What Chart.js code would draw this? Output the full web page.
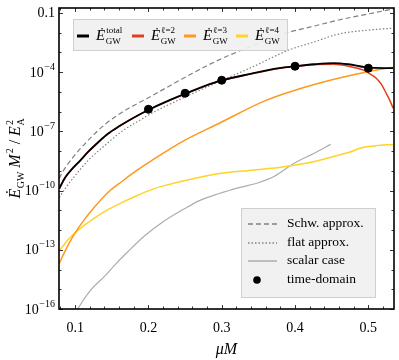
<!DOCTYPE html>
<html>
<head>
<meta charset="utf-8">
<script src="https://cdn.jsdelivr.net/npm/chart.js@4.4.1/dist/chart.umd.min.js"></script>
<style>
  html, body { margin: 0; padding: 0; background: #fff; }
  #wrap { width: 399px; height: 360px; }
</style>
</head>
<body>
<div id="wrap"><canvas id="gw_flux_plot" width="399" height="360"></canvas></div>
<script>
// values, y given as log10
const muTotal  = [0.0783, 0.0864, 0.0959, 0.1068, 0.1176, 0.1312, 0.1447, 0.161, 0.1773, 0.2017, 0.222, 0.2519, 0.2763, 0.3007, 0.3373, 0.378, 0.3997, 0.4254, 0.4525, 0.4729, 0.4973, 0.5339];
const logTotal = [-9.90, -9.34, -8.90, -8.48, -8.04, -7.56, -7.12, -6.72, -6.36, -5.88, -5.53, -5.07, -4.71, -4.41, -4.10, -3.80, -3.70, -3.60, -3.54, -3.60, -3.76, -3.80];

const muL2  = [0.0783, 0.0864, 0.0959, 0.1068, 0.1176, 0.1312, 0.1447, 0.161, 0.1773, 0.2017, 0.222, 0.2519, 0.2763, 0.3007, 0.3373, 0.378, 0.3997, 0.4254, 0.4525, 0.4729, 0.4932, 0.5027, 0.5108, 0.5176, 0.5244, 0.5298, 0.5339];
const logL2 = [-9.91, -9.35, -8.91, -8.49, -8.05, -7.57, -7.13, -6.73, -6.37, -5.89, -5.54, -5.08, -4.72, -4.42, -4.11, -3.81, -3.71, -3.62, -3.60, -3.70, -3.90, -4.10, -4.31, -4.61, -5.07, -5.47, -5.83];

const muL3  = [0.0783, 0.0824, 0.0892, 0.1, 0.1136, 0.1271, 0.1447, 0.1637, 0.1841, 0.2044, 0.2492, 0.2966, 0.3603, 0.4322, 0.4959, 0.5339];
const logL3 = [-13.71, -13.36, -12.85, -12.14, -11.42, -10.81, -10.10, -9.54, -8.98, -8.48, -7.46, -6.59, -5.43, -4.56, -4.00, -3.75];

const muL4  = [0.0783, 0.0837, 0.0892, 0.1, 0.1136, 0.1271, 0.1447, 0.1637, 0.1841, 0.2044, 0.222, 0.2559, 0.2966, 0.3373, 0.378, 0.4051, 0.4322, 0.4525, 0.4729, 0.4932, 0.5136, 0.5339];
const logL4 = [-13.05, -12.80, -12.54, -12.14, -11.73, -11.37, -10.97, -10.61, -10.26, -9.95, -9.75, -9.44, -9.14, -8.98, -8.83, -8.68, -8.48, -8.27, -8.07, -7.81, -7.71, -7.66];

const muScalar  = [0.098, 0.1027, 0.1203, 0.1407, 0.1556, 0.1719, 0.1949, 0.222, 0.2492, 0.2695, 0.2966, 0.3237, 0.3509, 0.3712, 0.3983, 0.4254, 0.4485];
const logScalar = [-16.40, -16.05, -15.08, -14.32, -13.71, -13.10, -12.29, -11.53, -10.92, -10.51, -10.15, -9.85, -9.59, -9.29, -8.63, -8.12, -7.66];

const muSchw  = [0.0783, 0.0824, 0.0959, 0.1176, 0.1407, 0.1637, 0.1881, 0.2085, 0.2451, 0.2898, 0.3373, 0.3875, 0.4214, 0.4593, 0.5, 0.5339];
const logSchw = [-9.39, -9.09, -8.37, -7.46, -6.65, -6.04, -5.53, -5.12, -4.36, -3.49, -2.73, -2.02, -1.71, -1.36, -1.05, -0.80];

const muFlat  = [0.0783, 0.0864, 0.1, 0.1176, 0.1407, 0.1637, 0.1881, 0.2017, 0.2464, 0.3007, 0.3441, 0.3915, 0.4254, 0.4593, 0.5, 0.5339];
const logFlat = [-10.36, -9.90, -9.24, -8.48, -7.71, -7.00, -6.44, -6.14, -5.32, -4.41, -3.70, -2.88, -2.48, -2.07, -1.87, -1.77];

const muTime  = [0.2, 0.25, 0.3, 0.4, 0.5];
const logTime = [-5.88, -5.07, -4.41, -3.70, -3.80];

const xTicks = [0.1, 0.2, 0.3, 0.4, 0.5];
const yTickExp = [-16, -13, -10, -7, -4, -1];

const modeLabels = [['total', 'GW'], ['\u2113=2', 'GW'], ['\u2113=3', 'GW'], ['\u2113=4', 'GW']];
const modeColors = ['#000000', '#e0401c', '#ff981e', '#ffd426'];
const refLabels = ['Schw. approx.', 'flat approx.', 'scalar case', 'time-domain'];

const SERIF = '"Liberation Serif", "DejaVu Serif", serif';

function pts(xs, ls) {
  return xs.map((v, i) => ({ x: v, y: Math.pow(10, ls[i]) }));
}

function lineSet(label, xs, ls, color, width, dash) {
  return {
    label: label,
    data: pts(xs, ls),
    borderColor: color,
    backgroundColor: color,
    borderWidth: width,
    borderDash: dash || [],
    pointRadius: 0,
    fill: false,
    cubicInterpolationMode: 'monotone'
  };
}

// draw "base^sup_sub" pieces, returns width
function drawMath(ctx, x, y, parts, size, doDraw) {
  let cx = x;
  for (const p of parts) {
    ctx.font = (p.it ? 'italic ' : '') + size + 'px ' + SERIF;
    if (doDraw) ctx.fillText(p.t, cx, y);
    cx += ctx.measureText(p.t).width;
    let w = 0;
    const small = Math.round(size * 0.62);
    ctx.font = small + 'px ' + SERIF;
    if (p.sup) {
      if (doDraw) ctx.fillText(p.sup, cx + 1, y - size * 0.45);
      w = Math.max(w, ctx.measureText(p.sup).width + 1);
    }
    if (p.sub) {
      if (doDraw) ctx.fillText(p.sub, cx + 0.5, y + size * 0.27);
      w = Math.max(w, ctx.measureText(p.sub).width + 0.5);
    }
    cx += w;
  }
  return cx - x;
}

const framePlugin = {
  id: 'frame',
  afterDraw(chart) {
    const ctx = chart.ctx;
    const a = chart.chartArea;
    const xs = chart.scales.x, ys = chart.scales.y;
    ctx.save();
    ctx.strokeStyle = '#000';
    ctx.lineWidth = 0.8;
    ctx.beginPath();
    for (let e = -16; e <= -1; e++) {
      const py = Math.round(ys.getPixelForValue(Math.pow(10, e))) + 0.5;
      const len = yTickExp.includes(e) ? 4 : 2.5;
      ctx.moveTo(a.left, py); ctx.lineTo(a.left + len, py);
      ctx.moveTo(a.right - len, py); ctx.lineTo(a.right, py);
    }
    for (let k = 4; k <= 26; k++) {
      const px = Math.round(xs.getPixelForValue(k * 0.02)) + 0.5;
      const len = k % 5 === 0 ? 4 : 2.5;
      ctx.moveTo(px, a.bottom); ctx.lineTo(px, a.bottom - len);
      ctx.moveTo(px, a.top); ctx.lineTo(px, a.top + len);
    }
    ctx.stroke();
    ctx.lineWidth = 1.6;
    ctx.strokeRect(a.left, a.top, a.right - a.left, a.bottom - a.top);

    // y tick labels: 0.1 and 10^-n
    ctx.fillStyle = '#000';
    ctx.textBaseline = 'middle';
    for (const e of yTickExp) {
      const py = ys.getPixelForValue(Math.pow(10, e));
      if (e === -1) {
        ctx.font = '14px ' + SERIF;
        const t = '0.1';
        ctx.fillText(t, a.left - 4 - ctx.measureText(t).width, py);
        continue;
      }
      ctx.font = '10px ' + SERIF;
      const sup = '\u2212' + (-e);
      const ws = ctx.measureText(sup).width;
      ctx.fillText(sup, a.left - 4 - ws, py - 5);
      ctx.font = '14px ' + SERIF;
      const wb = ctx.measureText('10').width;
      ctx.fillText('10', a.left - 4 - ws - wb - 0.5, py + 1);
    }

    // upper legend
    ctx.fillStyle = 'rgba(240,240,240,0.92)';
    ctx.fillRect(73, 19, 214, 31);
    ctx.strokeStyle = '#cfcfcf';
    ctx.lineWidth = 1;
    ctx.strokeRect(73.5, 19.5, 214, 31);
    const entryX = [77, 132, 184, 236];
    ctx.textBaseline = 'alphabetic';
    for (let i = 0; i < 4; i++) {
      ctx.strokeStyle = modeColors[i];
      ctx.lineWidth = 3;
      ctx.beginPath();
      ctx.moveTo(entryX[i], 36); ctx.lineTo(entryX[i] + 12, 36);
      ctx.stroke();
      ctx.fillStyle = '#000';
      drawMath(ctx, entryX[i] + 19, 40, [{ t: '\u0116', it: true, sup: modeLabels[i][0], sub: modeLabels[i][1] }], 15, true);
    }

    // lower legend
    ctx.fillStyle = 'rgba(240,240,240,0.92)';
    ctx.fillRect(241, 208, 134, 89);
    ctx.strokeStyle = '#cfcfcf';
    ctx.lineWidth = 1;
    ctx.strokeRect(241.5, 208.5, 134, 89);
    const rowY = [224, 243, 261, 280];
    const refSets = [chart.data.datasets[7], chart.data.datasets[6], chart.data.datasets[5]];
    for (let i = 0; i < 3; i++) {
      ctx.strokeStyle = refSets[i].borderColor;
      ctx.lineWidth = refSets[i].borderWidth + 0.3;
      ctx.setLineDash(refSets[i].borderDash);
      ctx.beginPath();
      ctx.moveTo(248, rowY[i]); ctx.lineTo(277, rowY[i]);
      ctx.stroke();
    }
    ctx.setLineDash([]);
    ctx.fillStyle = '#000';
    ctx.beginPath();
    ctx.arc(257, rowY[3], 3.8, 0, Math.PI * 2);
    ctx.fill();
    ctx.font = '13.5px ' + SERIF;
    ctx.textBaseline = 'middle';
    for (let i = 0; i < 4; i++) ctx.fillText(refLabels[i], 287, rowY[i] - 1);

    // axis titles
    ctx.textBaseline = 'alphabetic';
    ctx.font = 'italic 16px ' + SERIF;
    const xt = '\u03BCM';
    ctx.fillText(xt, (a.left + a.right) / 2 - ctx.measureText(xt).width / 2, 354);

    const yParts = [
      { t: '\u0116', it: true, sub: 'GW' },
      { t: ' M', it: true, sup: '2' },
      { t: ' / ' },
      { t: 'E', it: true, sup: '2', sub: 'A' }
    ];
    ctx.translate(20, (a.top + a.bottom) / 2);
    ctx.rotate(-Math.PI / 2);
    const w = drawMath(ctx, 0, 0, yParts, 16, false);
    drawMath(ctx, -w / 2, 0, yParts, 16, true);
    ctx.restore();
  }
};

const gw_flux_plot_chart = new Chart(
  document.querySelector('#gw_flux_plot'),
  {
    type: 'line',
    data: {
      datasets: [
        {
          label: refLabels[3],
          data: pts(muTime, logTime),
          showLine: false,
          pointRadius: 4,
          pointBackgroundColor: '#000',
          pointBorderColor: '#000',
          borderColor: '#000'
        },
        lineSet('total', muTotal, logTotal, modeColors[0], 1.8),
        lineSet('l=2', muL2, logL2, modeColors[1], 1.5),
        lineSet('l=3', muL3, logL3, modeColors[2], 1.5),
        lineSet('l=4', muL4, logL4, modeColors[3], 1.5),
        lineSet(refLabels[2], muScalar, logScalar, '#adadad', 1.2),
        lineSet(refLabels[1], muFlat, logFlat, '#808080', 1.2, [1.5, 2]),
        lineSet(refLabels[0], muSchw, logSchw, '#808080', 1.2, [5, 3])
      ]
    },
    options: {
      responsive: false,
      animation: false,
      layout: { padding: { left: 0, top: 8, right: 4, bottom: 0 } },
      scales: {
        x: {
          type: 'linear',
          position: 'bottom',
          min: 0.078,
          max: 0.535,
          grid: { display: false },
          border: { display: false },
          afterBuildTicks: s => { s.ticks = xTicks.map(v => ({ value: v })); },
          afterFit: s => { s.height = 51; },
          ticks: {
            padding: 3,
            color: '#000',
            maxRotation: 0,
            font: { family: SERIF, size: 14 },
            callback: v => v.toFixed(1)
          }
        },
        y: {
          type: 'logarithmic',
          min: 1e-16,
          max: Math.pow(10, -0.75),
          grid: { display: false },
          border: { display: false },
          afterBuildTicks: s => { s.ticks = yTickExp.map(e => ({ value: Math.pow(10, e) })); },
          afterFit: s => { s.width = 59; },
          ticks: { display: false }
        }
      },
      plugins: {
        legend: { display: false },
        tooltip: { enabled: false }
      }
    },
    plugins: [framePlugin]
  }
);
</script>
</body>
</html>
